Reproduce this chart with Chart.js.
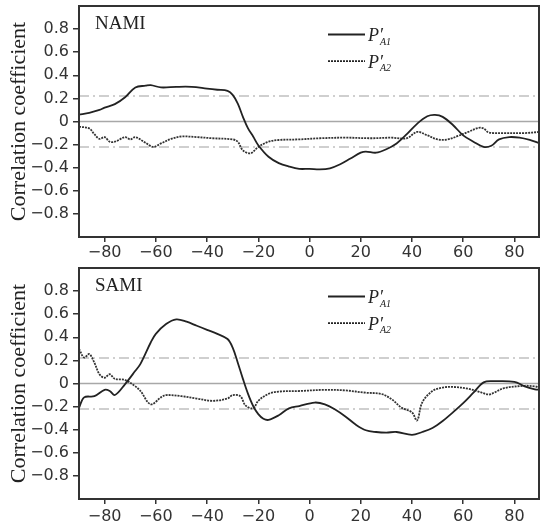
<!DOCTYPE html>
<html>
<head>
<meta charset="utf-8">
<script src="https://cdn.jsdelivr.net/npm/chart.js@4.4.1/dist/chart.umd.min.js"></script>
<style>
  body { margin: 0; background: #fff; overflow: hidden; width: 540px; height: 527px; }
  .panel { position: absolute; left: 0; width: 540px; }
  #p1 { top: 0; height: 260px; }
  #p2 { top: 260px; height: 267px; }
</style>
</head>
<body>
<div class="panel" id="p1"><canvas id="c1"></canvas></div>
<div class="panel" id="p2"><canvas id="c2"></canvas></div>
<script>
// ---- data (lag in days vs correlation coefficient) ----
const xTicks = [-80, -60, -40, -20, 0, 20, 40, 60, 80];
const yTicks = [-0.8, -0.6, -0.4, -0.2, 0, 0.2, 0.4, 0.6, 0.8];
const sigLevel = 0.22;

// NAMI
const namiLagA1 = [-90,-86,-82,-80,-76,-72,-68,-64,-62,-58,-52,-46,-40,-36,-32,-30,-28,-26,-24,-22,-20,-16,-12,-8,-4,0,4,8,12,16,20,22,26,30,34,38,42,46,49,52,56,60,64,68,71,74,78,82,86,90];
const namiA1 = [0.06,0.075,0.10,0.12,0.15,0.21,0.295,0.31,0.315,0.295,0.30,0.30,0.285,0.275,0.265,0.23,0.155,0.04,-0.06,-0.13,-0.205,-0.305,-0.36,-0.39,-0.41,-0.41,-0.415,-0.405,-0.37,-0.32,-0.27,-0.26,-0.27,-0.24,-0.19,-0.11,-0.02,0.045,0.057,0.04,-0.03,-0.12,-0.175,-0.22,-0.21,-0.155,-0.135,-0.14,-0.16,-0.19];
const namiLagA2 = [-90,-86,-84,-82,-80,-78,-76,-72,-70,-68,-64,-61,-58,-54,-50,-44,-38,-30,-28,-26,-23,-20,-16,-12,-4,4,14,24,32,38,42,46,50,54,58,62,66,68,70,76,84,90];
const namiA2 = [-0.045,-0.06,-0.11,-0.15,-0.135,-0.175,-0.175,-0.135,-0.155,-0.135,-0.185,-0.22,-0.19,-0.15,-0.13,-0.135,-0.145,-0.155,-0.175,-0.25,-0.275,-0.22,-0.175,-0.16,-0.155,-0.145,-0.14,-0.145,-0.14,-0.145,-0.09,-0.12,-0.155,-0.155,-0.125,-0.09,-0.055,-0.06,-0.095,-0.10,-0.10,-0.09];

// SAMI
const samiLagA1 = [-90,-88,-84,-80,-78,-76,-72,-68,-66,-62,-60,-56,-52,-48,-44,-40,-36,-32,-30,-28,-26,-24,-22,-20,-18,-16,-12,-8,-4,2,6,10,14,18,22,26,30,34,40,44,48,52,56,60,64,68,72,80,84,88,90];
const samiA1 = [-0.21,-0.12,-0.11,-0.055,-0.065,-0.10,-0.005,0.11,0.17,0.355,0.43,0.515,0.555,0.535,0.50,0.465,0.43,0.385,0.31,0.18,0.04,-0.09,-0.195,-0.265,-0.305,-0.315,-0.275,-0.215,-0.195,-0.165,-0.18,-0.225,-0.285,-0.355,-0.405,-0.42,-0.425,-0.42,-0.445,-0.42,-0.385,-0.325,-0.25,-0.17,-0.08,0.01,0.02,0.015,-0.025,-0.05,-0.055];
const samiLagA2 = [-90,-88,-86,-84,-82,-80,-78,-76,-72,-68,-66,-62,-58,-56,-50,-44,-38,-32,-30,-27,-25,-22,-20,-16,-12,-4,6,14,22,28,32,36,40,42,44,48,52,56,62,66,70,72,76,84,88,90];
const samiA2 = [0.30,0.225,0.255,0.18,0.08,0.05,0.08,0.04,0.03,-0.025,-0.065,-0.18,-0.12,-0.10,-0.11,-0.13,-0.15,-0.13,-0.10,-0.11,-0.19,-0.215,-0.15,-0.09,-0.07,-0.065,-0.055,-0.06,-0.08,-0.09,-0.135,-0.21,-0.25,-0.32,-0.165,-0.065,-0.035,-0.03,-0.045,-0.07,-0.095,-0.08,-0.04,-0.02,-0.025,-0.035];

const pts = (xs, ys) => xs.map((x, i) => ({ x: x, y: ys[i] }));
const hline = v => [{ x: -90, y: v }, { x: 90, y: v }];

// frame, panel name and legend
const framePlugin = {
  id: 'frame',
  afterDraw(chart, args, opts) {
    const { ctx, chartArea: a } = chart;
    ctx.save();
    ctx.strokeStyle = '#333';
    ctx.lineWidth = 2;
    ctx.strokeRect(a.left, a.top, a.right - a.left - 1, a.bottom - a.top);

    ctx.fillStyle = '#222';
    ctx.font = '19px "Liberation Serif"';
    ctx.fillText(opts.label, a.left + 16, a.top + 22.5);

    const items = [{ sub: 'A1', dash: [] }, { sub: 'A2', dash: [2, 1] }];
    items.forEach((it, i) => {
      const y = a.top + 28.5 + i * 26.7;
      ctx.strokeStyle = '#222';
      ctx.lineWidth = 1.8;
      ctx.setLineDash(it.dash);
      ctx.beginPath();
      ctx.moveTo(328, y);
      ctx.lineTo(365, y);
      ctx.stroke();
      ctx.setLineDash([]);
      ctx.font = 'italic 18px "Liberation Serif"';
      ctx.fillText('P′', 368, y + 6.5);
      const w = ctx.measureText('P′').width;
      ctx.font = 'italic 10px "Liberation Serif"';
      ctx.fillText(it.sub, 368 + w - 3, y + 10);
    });
    ctx.restore();
  }
};

function makeChart(id, label, a1, a2, topPad, xPad, xHeight) {
  new Chart(document.getElementById(id), {
    type: 'line',
    data: {
      datasets: [
        { data: a1, borderColor: '#222', borderWidth: 1.8, pointRadius: 0, tension: 0.35 },
        { data: a2, borderColor: '#333', borderWidth: 1.8, borderDash: [2, 1], pointRadius: 0, tension: 0.35 },
        { data: hline(0), borderColor: '#a8a8a8', borderWidth: 1.5, pointRadius: 0 },
        { data: hline(sigLevel), borderColor: '#c0c0c0', borderWidth: 1.5, borderDash: [10, 4, 2, 4], pointRadius: 0 },
        { data: hline(-sigLevel), borderColor: '#c0c0c0', borderWidth: 1.5, borderDash: [10, 4, 2, 4], pointRadius: 0 }
      ]
    },
    options: {
      responsive: true,
      maintainAspectRatio: false,
      animation: false,
      layout: { padding: { top: topPad, right: 0, left: 0, bottom: 0 } },
      plugins: { legend: { display: false }, tooltip: { enabled: false }, frame: { label: label } },
      scales: {
        x: {
          type: 'linear', min: -90, max: 90,
          afterBuildTicks: s => { s.ticks = xTicks.map(v => ({ value: v })); },
          afterFit: s => { s.height = xHeight; s.paddingLeft = 0; s.paddingRight = 0; },
          grid: { drawOnChartArea: false, tickLength: 5, tickColor: '#333', lineWidth: 1.5 },
          border: { display: false },
          ticks: {
            padding: xPad, color: '#333', maxRotation: 0, autoSkip: false,
            font: { family: '"DejaVu Sans"', size: 16 },
            callback: v => (v < 0 ? '−' : '') + Math.abs(v)
          }
        },
        y: {
          min: -1, max: 1,
          afterBuildTicks: s => { s.ticks = yTicks.map(v => ({ value: v })); },
          afterFit: s => { s.width = 79; s.paddingTop = 0; s.paddingBottom = 0; },
          grid: { drawOnChartArea: false, tickLength: 6, tickColor: '#333', lineWidth: 1.5 },
          border: { display: false },
          title: {
            display: true, text: 'Correlation coefficient', color: '#222',
            font: { family: '"Liberation Serif"', size: 22 }, padding: { top: 6, bottom: 2 }
          },
          ticks: {
            padding: 4, color: '#333', autoSkip: false,
            font: { family: '"DejaVu Sans"', size: 16 },
            callback: v => Math.abs(v) < 1e-9 ? '0' : (v < 0 ? '−' : '') + Math.abs(v).toFixed(1)
          }
        }
      }
    },
    plugins: [framePlugin]
  });
}

makeChart('c1', 'NAMI', pts(namiLagA1, namiA1), pts(namiLagA2, namiA2), 6, 1, 23);
makeChart('c2', 'SAMI', pts(samiLagA1, samiA1), pts(samiLagA2, samiA2), 8, 3, 28);
</script>
</body>
</html>
